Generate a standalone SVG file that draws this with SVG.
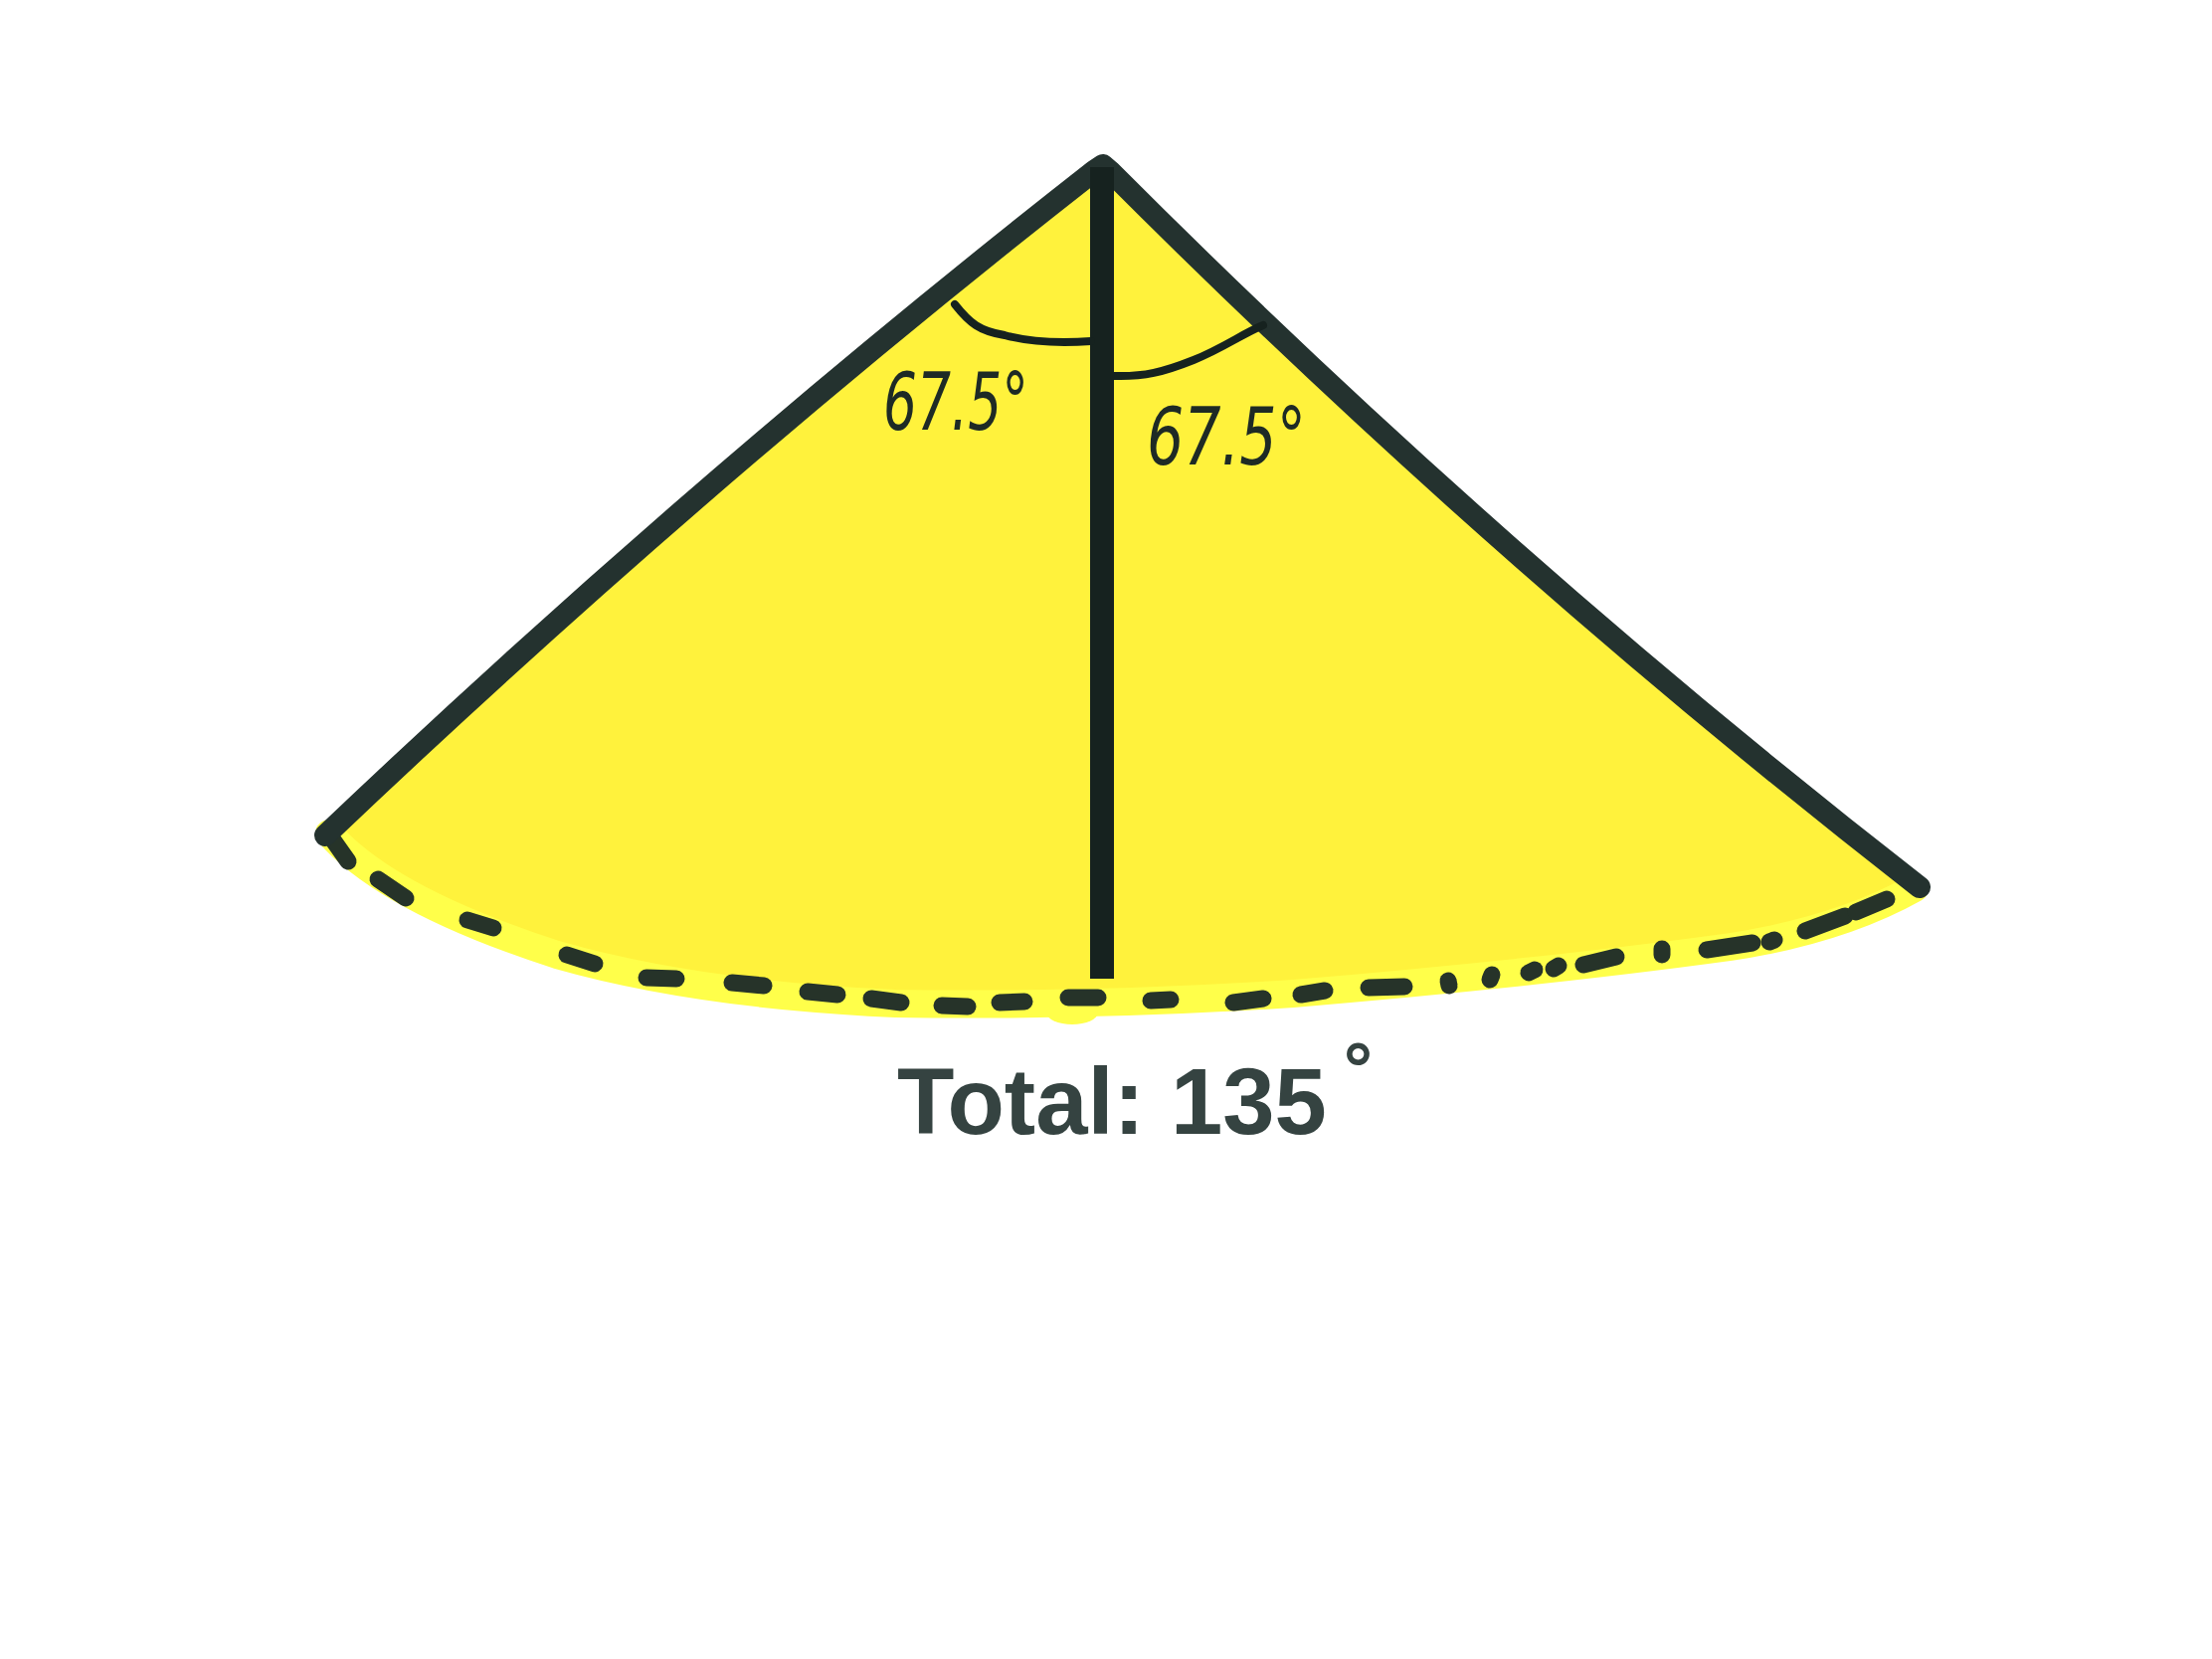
<svg xmlns="http://www.w3.org/2000/svg" width="2224" height="1668" viewBox="0 0 2224 1668">
  <style>
    .fill { fill: #fff23c; stroke: none; }
    .band { fill: none; stroke: #ffff4a; stroke-width: 28; stroke-linecap: round; stroke-linejoin: round; }
    .dash { fill: none; stroke: #263329; stroke-width: 17; stroke-linecap: round; }
    .edge { fill: none; stroke: #24322f; stroke-width: 22; stroke-linecap: round; stroke-linejoin: round; }
    .bar { fill: #16221f; }
    .arc { fill: none; stroke: #16221f; stroke-width: 8; stroke-linecap: round; stroke-linejoin: round; }
    .hand { font-family: "DejaVu Sans", "Liberation Sans", sans-serif; font-style: italic; font-size: 80px; fill: #1e2a25; }
    .total { font-family: "Liberation Sans", Arial, sans-serif; font-weight: bold; font-size: 94px; fill: #354341; }
  </style>
  <defs>
    <path id="bottomArc" d="M331,838 Q390,905 560,960 Q700,1000 900,1009 Q1100,1012 1300,999 Q1550,978 1740,952 Q1850,935 1925,893"/>
  </defs>
  <g id="sector">
    <path class="fill" d="M329,836 Q700,485 1100,172 L1109,166 L1116,172 Q1501,558 1925,893 Q1850,935 1740,952 Q1550,978 1300,999 Q1100,1012 900,1009 Q700,1000 560,960 Q390,905 331,838 Z"/>
    <use href="#bottomArc" class="band"/>
    <ellipse cx="1078" cy="1018" rx="26" ry="12" fill="#ffff4a"/>
    <g id="dashes" class="dash">
      <path d="M333,842 L350,866"/>
      <path d="M380,884 L408,903"/>
      <path d="M470,925 L496,933"/>
      <path d="M570,960 L598,969"/>
      <path d="M650,983 L680,984"/>
      <path d="M736,988 L768,991"/>
      <path d="M812,997 L842,1000"/>
      <path d="M876,1004 L906,1008"/>
      <path d="M947,1011 L973,1012"/>
      <path d="M1005,1008 L1030,1007"/>
      <path d="M1074,1003 L1104,1003"/>
      <path d="M1157,1006 L1177,1005"/>
      <path d="M1240,1008 L1270,1004"/>
      <path d="M1308,1000 L1332,996"/>
      <path d="M1376,993 L1412,992"/>
      <path d="M1456,986 L1457,991"/>
      <path d="M1498,985 L1500,980"/>
      <path d="M1537,978 L1543,975"/>
      <path d="M1562,974 L1567,971"/>
      <path d="M1592,970 L1625,962"/>
      <path d="M1671,954 L1671,960"/>
      <path d="M1716,955 L1762,948"/>
      <path d="M1779,947 L1784,945"/>
      <path d="M1815,936 L1855,921"/>
      <path d="M1866,917 L1897,904"/>
    </g>
    <path class="edge" d="M327,840 Q700,485 1100,172 L1109,166 L1116,172 Q1501,558 1930,892"/>
  </g>
  <g id="bisector">
    <rect class="bar" x="1096" y="168" width="24" height="816"/>
  </g>
  <g id="angle-left">
    <path class="arc" d="M960,306 C975,325 985,333 1010,337 C1040,345 1070,345 1097,343"/>
    <text class="hand" x="888" y="432" textLength="146" lengthAdjust="spacingAndGlyphs">67.5°</text>
  </g>
  <g id="angle-right">
    <path class="arc" d="M1120,378 C1150,379 1170,374 1200,362 C1230,350 1250,335 1270,327"/>
    <text class="hand" x="1153" y="467" textLength="160" lengthAdjust="spacingAndGlyphs">67.5°</text>
  </g>
  <g id="total-label">
    <text class="total" x="902" y="1140">Total: 135<tspan x="1348" y="1101" font-family="DejaVu Sans, sans-serif" font-size="70" font-style="italic">°</tspan></text>
  </g>
</svg>
